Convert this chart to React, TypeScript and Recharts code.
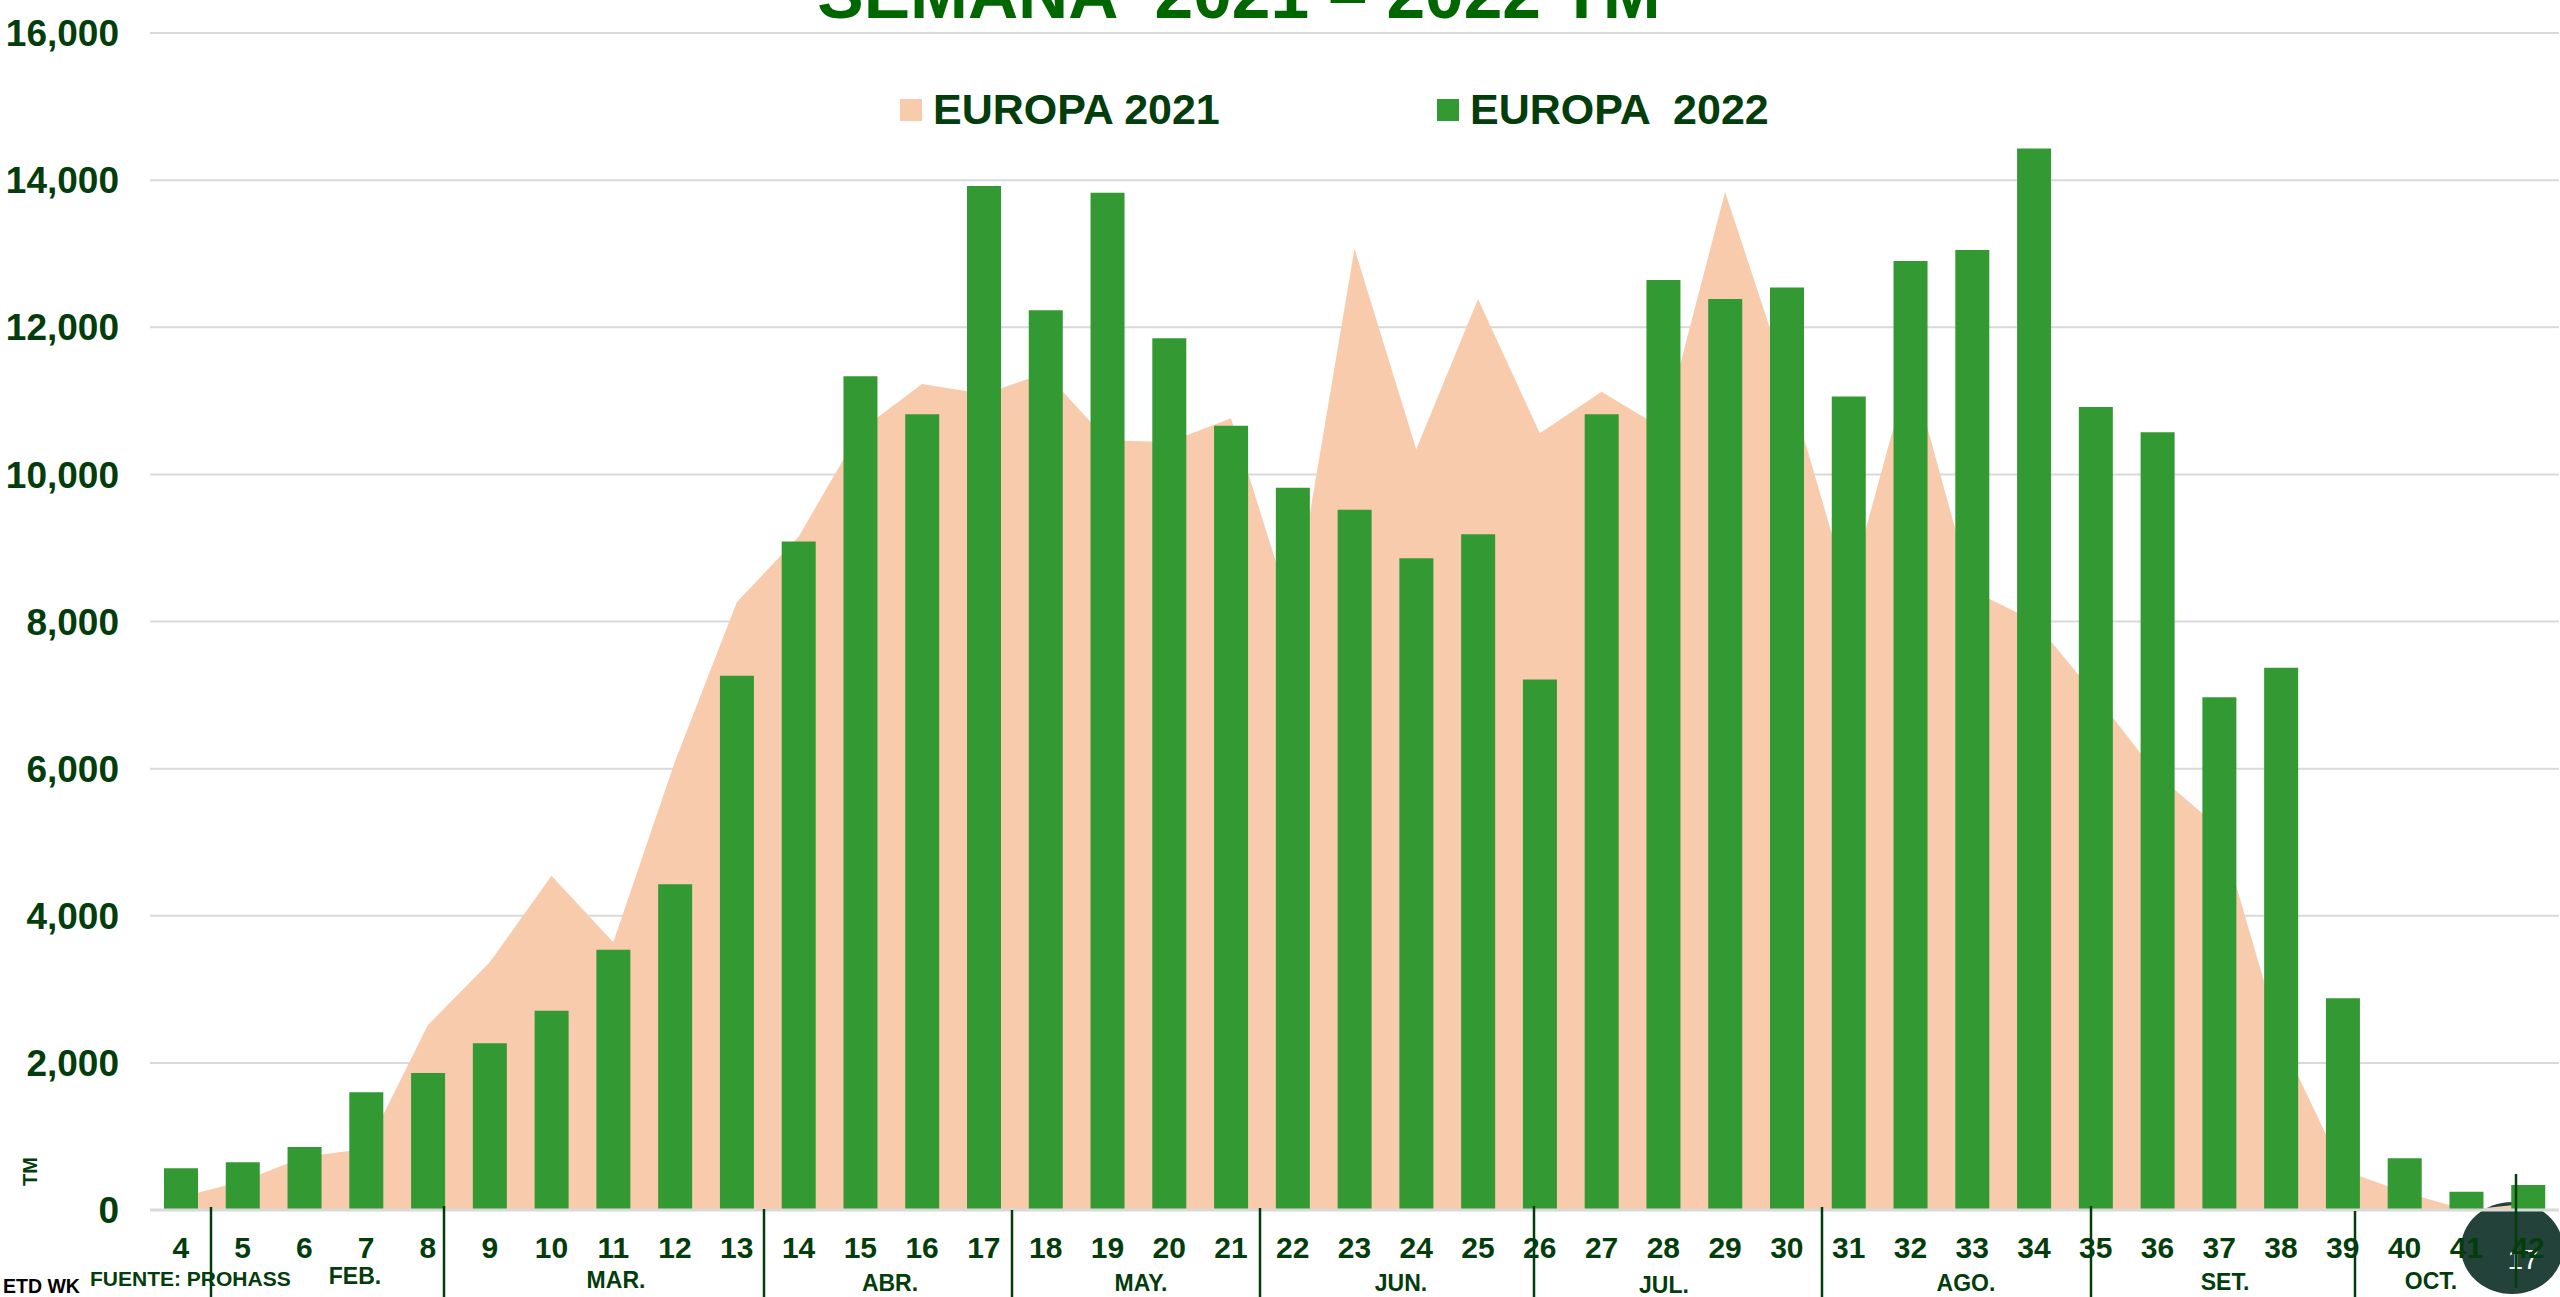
import React from 'react';
import { ComposedChart, Area, Bar, XAxis, YAxis, CartesianGrid, Legend } from 'recharts';

const WIDTH = 2560;
const HEIGHT = 1297;
const FONT = '"Liberation Sans", Arial, sans-serif';
const DARK = '#033d0b';
const GRID = '#d9d9d9';
const PEACH = '#f8cbad';
const GREEN = '#339933';

const WEEKS = [
  4, 5, 6, 7, 8, 9, 10, 11, 12, 13, 14, 15, 16, 17, 18, 19, 20, 21, 22, 23,
  24, 25, 26, 27, 28, 29, 30, 31, 32, 33, 34, 35, 36, 37, 38, 39, 40, 41, 42,
];

const EUROPA_2021 = [
  177, 390, 725, 834, 2515, 3367, 4545, 3639, 6100, 8261, 9153, 10599, 11229, 11093, 11378, 10463, 10440, 10762, 8080, 13069,
  10341, 12385, 10558, 11124, 10617, 13840, 11287, 8407, 11475, 8420, 8011, 6992, 5913, 5197, 2315, 544, 240, 0, 90,
];

const EUROPA_2022 = [
  566, 648, 856, 1600, 1862, 2266, 2710, 3539, 4427, 7263, 9086, 11333, 10816, 13920, 12230, 13830, 11850, 10662, 9819, 9520,
  8860, 9185, 7210, 10816, 12643, 12385, 12540, 11057, 12900, 13050, 14430, 10916, 10572, 6970, 7370, 2877, 702, 249, 340,
];

const Y_TICKS = [0, 2000, 4000, 6000, 8000, 10000, 12000, 14000, 16000];

const MONTHS = ['FEB.', 'MAR.', 'ABR.', 'MAY.', 'JUN.', 'JUL.', 'AGO.', 'SET.', 'OCT.'];
// where each month caption sits on the slide: [center x, baseline y]
const MONTH_SPOTS = [
  [355, 1284], [616, 1288], [890, 1291], [1141, 1291], [1401, 1291],
  [1664, 1293], [1966, 1291], [2225, 1290], [2431, 1289],
];
// month separators, drawn on the slide and not tied to the axis: [x, top y, bottom y]
const SEPARATORS = [
  [211, 1207, 1297], [444, 1206, 1297], [764, 1209, 1297], [1012, 1210, 1297], [1260, 1208, 1297],
  [1534, 1206, 1297], [1822, 1207, 1297], [2091, 1206, 1297], [2355, 1211, 1297], [2516, 1174, 1288],
];

const chartData = WEEKS.map((week, i) => ({
  week,
  europa2021: EUROPA_2021[i],
  europa2022: EUROPA_2022[i],
}));

const LegendRow = ({ payload }: { payload?: any[] }) => (
  <div style={{ display: 'flex', paddingLeft: 900, fontFamily: FONT, fontWeight: 700, fontSize: 43, color: DARK }}>
    {(payload || []).map(entry => (
      <div key={entry.value} style={{ width: 537, display: 'flex', alignItems: 'center', whiteSpace: 'pre' }}>
        <span style={{ width: 22, height: 22, background: entry.color, marginRight: 11 }} />
        {entry.value}
      </div>
    ))}
  </div>
);

export default function App() {
  return (
    <div style={{ position: 'absolute', left: 0, top: 0, width: WIDTH, height: HEIGHT, overflow: 'hidden', background: '#fff' }}>
      {/* slide number badge sits behind the chart */}
      <svg width={WIDTH} height={HEIGHT} style={{ position: 'absolute', left: 0, top: 0 }}>
        <ellipse cx={2512} cy={1248} rx={51} ry={46} fill="#234239" />
        <text x={2523} y={1269} textAnchor="middle" fontFamily={FONT} fontSize={28} fill="#fff">17</text>
      </svg>

      <div style={{ position: 'absolute', left: 0, top: 0 }}>
        <ComposedChart width={WIDTH} height={HEIGHT} data={chartData} margin={{ top: 33, right: 1, bottom: 0, left: 0 }}>
          <CartesianGrid horizontal vertical={false} stroke={GRID} strokeWidth={2} />
          <XAxis
            dataKey="week"
            height={87}
            interval={0}
            tickLine={false}
            tickMargin={21}
            axisLine={{ stroke: GRID, strokeWidth: 3 }}
            tick={{ fill: DARK, fontSize: 30, fontWeight: 700, fontFamily: FONT }}
          />
          <YAxis
            width={150}
            domain={[0, 16000]}
            ticks={Y_TICKS}
            tickLine={false}
            axisLine={false}
            tickSize={0}
            tickMargin={31}
            tickFormatter={(v: number) => v.toLocaleString('en-US')}
            tick={{ fill: DARK, fontSize: 37, fontWeight: 700, fontFamily: FONT }}
          />
          <Legend
            layout="horizontal"
            verticalAlign="middle"
            itemSorter={null}
            content={<LegendRow />}
            wrapperStyle={{ left: 0, top: 85, width: WIDTH }}
          />
          <Area
            type="linear"
            dataKey="europa2021"
            name="EUROPA 2021"
            stroke="none"
            fill={PEACH}
            fillOpacity={1}
            dot={false}
            activeDot={false}
            isAnimationActive={false}
          />
          <Bar dataKey="europa2022" name="EUROPA  2022" fill={GREEN} barSize={34} isAnimationActive={false} />
        </ComposedChart>
      </div>

      {/* slide annotations on top of the chart */}
      <svg width={WIDTH} height={HEIGHT} style={{ position: 'absolute', left: 0, top: 0, pointerEvents: 'none' }} fontFamily={FONT} fontWeight={700}>
        <text x={1239} y={18} textAnchor="middle" fontSize={69.5} fill="#006600" style={{ whiteSpace: 'pre' }}>
          SEMANA  2021 – 2022 TM
        </text>
        <text transform="translate(37 1186) rotate(-90)" fontSize={20} fill={DARK}>TM</text>
        <text x={3} y={1293} fontSize={19.5} fill="#000">ETD WK</text>
        <text x={90} y={1286} fontSize={21} fill={DARK}>FUENTE: PROHASS</text>
        {MONTHS.map((m, i) => (
          <text key={m} x={MONTH_SPOTS[i][0]} y={MONTH_SPOTS[i][1]} textAnchor="middle" fontSize={23} fill={DARK}>{m}</text>
        ))}
        {SEPARATORS.map(([x, y1, y2]) => (
          <line key={x} x1={x} x2={x} y1={y1} y2={y2} stroke={DARK} strokeWidth={2.5} />
        ))}
      </svg>
    </div>
  );
}
